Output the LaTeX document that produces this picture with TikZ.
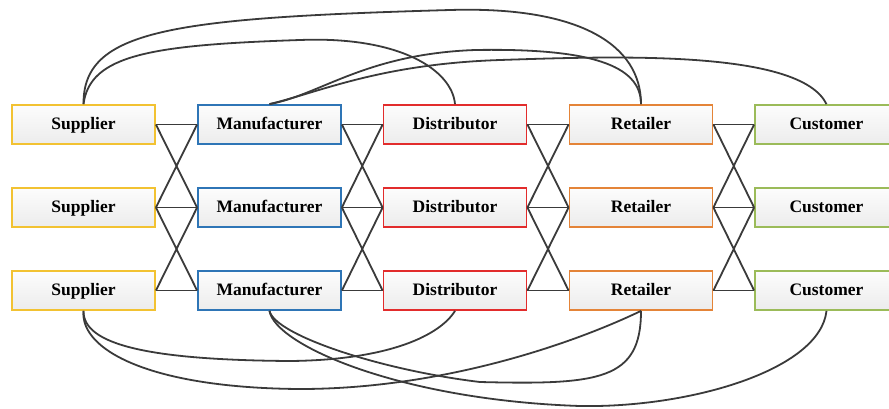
\documentclass[tikz,border=0pt]{standalone}
\usepackage{fontspec}
\setmainfont{Liberation Serif}
\usepackage{xcolor}

\definecolor{supcol}{RGB}{242,194,50}
\definecolor{mancol}{RGB}{46,117,182}
\definecolor{discol}{RGB}{226,44,44}
\definecolor{retcol}{RGB}{228,132,56}
\definecolor{cuscol}{RGB}{155,187,89}
\definecolor{linecol}{RGB}{58,58,58}

\begin{document}
\begin{tikzpicture}[
  x=1pt, y=-1pt,
  box/.style={
    rectangle, line width=1.8pt,
    top color=gray!2, bottom color=gray!15,
    minimum width=143pt, minimum height=39pt,
    text height=13pt, text depth=3pt,
    font=\fontsize{17.5}{20}\selectfont\bfseries, inner sep=0pt
  },
  sup/.style={box, draw=supcol},
  man/.style={box, draw=mancol},
  dis/.style={box, draw=discol},
  ret/.style={box, draw=retcol},
  cus/.style={box, draw=cuscol},
  link/.style={draw=linecol, line width=1.8pt},
]
\useasboundingbox (0,0) rectangle (889,408);

% five tiers, three rows each
\node[sup] (s1) at (83.5, 124.5) {Supplier};
\node[sup] (s2) at (83.5, 207.5) {Supplier};
\node[sup] (s3) at (83.5, 290.5) {Supplier};

\node[man] (m1) at (269.5, 124.5) {Manufacturer};
\node[man] (m2) at (269.5, 207.5) {Manufacturer};
\node[man] (m3) at (269.5, 290.5) {Manufacturer};

\node[dis] (d1) at (455, 124.5) {Distributor};
\node[dis] (d2) at (455, 207.5) {Distributor};
\node[dis] (d3) at (455, 290.5) {Distributor};

\node[ret] (r1) at (641, 124.5) {Retailer};
\node[ret] (r2) at (641, 207.5) {Retailer};
\node[ret] (r3) at (641, 290.5) {Retailer};

\node[cus] (c1) at (826.5, 124.5) {Customer};
\node[cus] (c2) at (826.5, 207.5) {Customer};
\node[cus] (c3) at (826.5, 290.5) {Customer};

% links between neighbouring tiers
\draw[link] (s1.east) -- (m1.west) (s2.east) -- (m2.west) (s3.east) -- (m3.west);
\draw[link] (s1.east) -- (m2.west) (s2.east) -- (m1.west) (s2.east) -- (m3.west) (s3.east) -- (m2.west);
\draw[link] (m1.east) -- (d1.west) (m2.east) -- (d2.west) (m3.east) -- (d3.west);
\draw[link] (m1.east) -- (d2.west) (m2.east) -- (d1.west) (m2.east) -- (d3.west) (m3.east) -- (d2.west);
\draw[link] (d1.east) -- (r1.west) (d2.east) -- (r2.west) (d3.east) -- (r3.west);
\draw[link] (d1.east) -- (r2.west) (d2.east) -- (r1.west) (d2.east) -- (r3.west) (d3.east) -- (r2.west);
\draw[link] (r1.east) -- (c1.west) (r2.east) -- (c2.west) (r3.east) -- (c3.west);
\draw[link] (r1.east) -- (c2.west) (r2.east) -- (c1.west) (r2.east) -- (c3.west) (r3.east) -- (c2.west);

% bypass links over the top
\draw[link] (s1.north) .. controls (83,30) and (170,18) .. (450,10)
  .. controls (580,6) and (641,45) .. (r1.north);
\draw[link] (s1.north) .. controls (90,55) and (150,45) .. (300,40)
  .. controls (400,36) and (452,70) .. (d1.north);
\draw[link] (m1.north) .. controls (320,95) and (365,54) .. (475,50)
  .. controls (590,48) and (641,65) .. (r1.north);
\draw[link] (m1.north) .. controls (320,92) and (380,64) .. (500,60)
  .. controls (620,56) and (800,50) .. (c1.north);

% bypass links underneath
\draw[link] (s3.south) .. controls (83,345) and (150,360) .. (290,361)
  .. controls (390,360) and (440,335) .. (d3.south);
\draw[link] (s3.south) .. controls (80,350) and (150,388) .. (300,389)
  .. controls (440,389) and (570,345) .. (r3.south);
\draw[link] (m3.south) .. controls (275,335) and (380,370) .. (480,382)
  .. controls (600,385) and (641,380) .. (r3.south);
\draw[link] (m3.south) .. controls (275,345) and (400,400) .. (580,406)
  .. controls (690,408) and (820,370) .. (c3.south);

\end{tikzpicture}
\end{document}
